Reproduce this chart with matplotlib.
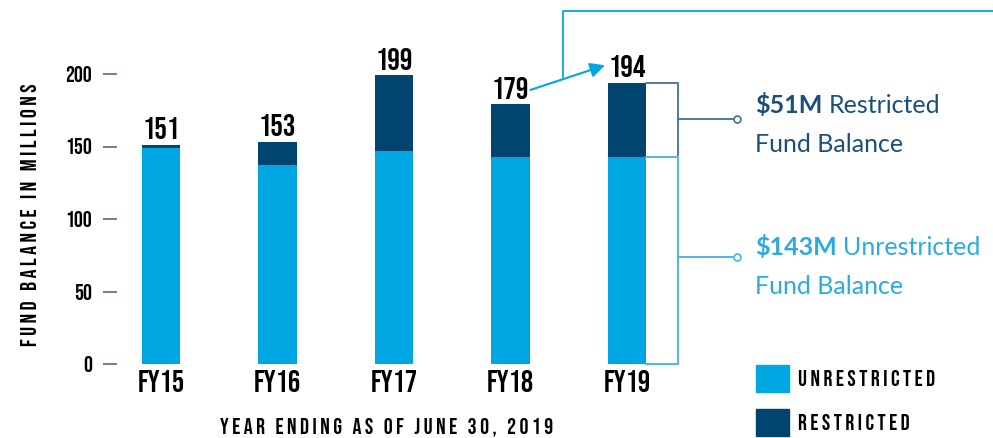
import matplotlib
matplotlib.use("Agg")
import matplotlib.pyplot as plt
from matplotlib.patches import Patch
import numpy as np

# ---------- data ----------
years = ["FY15", "FY16", "FY17", "FY18", "FY19"]
unrestricted = [149, 137, 147, 143, 143]
restricted = [2, 16, 52, 36, 51]
totals = [151, 153, 199, 179, 194]
y_ticks = [0, 50, 100, 150, 200]

LIGHT = "#00a6e2"
DARK = "#00446f"
NARROW = ["Bebas Neue", "Oswald", "Antonio", "DejaVu Sans"]
BODY = ["Lato", "DejaVu Sans"]
BODY_SIZE = 18


def spaced(s):
    return " ".join(s)


fig = plt.figure(figsize=(9.93, 4.38), dpi=100)
W, H = 993, 438
renderer = fig.canvas.get_renderer()
# axes: left edge at px 117, y=0 at px 364, y=200 at px 74, right edge at figure edge
ax = fig.add_axes([117 / W, (H - 364) / H, (W - 117) / W, (364 - 74) / H])


def callout(x, y, bold, rest, color):
    t = ax.text(x, y, bold, family=BODY, fontsize=BODY_SIZE, fontweight="bold",
                color=color, va="baseline", ha="left")
    bb = t.get_window_extent(renderer=renderer)
    x1 = ax.transData.inverted().transform((bb.x1 + 6, bb.y0))[0]
    ax.text(x1, y, rest, family=BODY, fontsize=BODY_SIZE, color=color,
            va="baseline", ha="left")


x = np.arange(len(years))
bw = 0.33
ax.bar(x, unrestricted, width=bw, color=LIGHT, zorder=2)
ax.bar(x, restricted, width=bw, bottom=unrestricted, color=DARK, zorder=2)

ax.set_xlim(-0.378, 7.14)
ax.set_ylim(0, 200)

for s in ax.spines.values():
    s.set_visible(False)

ax.set_yticks(y_ticks)
ax.set_yticklabels([str(v) for v in y_ticks], family=NARROW, fontsize=16)
ax.tick_params(axis="y", length=10, width=1.2, color="#4a6f85", pad=8)
ax.set_xticks(x)
ax.set_xticklabels(years, family=NARROW, fontsize=22)
ax.tick_params(axis="x", length=0, pad=4)

# totals above bars
for xi, t in zip(x, totals):
    ax.text(xi, t + 4, str(t), ha="center", va="bottom", family=NARROW,
            fontsize=22.5, color="black")

# arrow FY18 -> FY19 and the line going to the top right
ax.annotate("", xy=(3.81, 206), xytext=(3.17, 189),
            arrowprops=dict(arrowstyle="-|>", color=LIGHT, lw=1.5,
                            mutation_scale=22, shrinkA=0, shrinkB=0),
            annotation_clip=False)
ax.plot([3.45, 3.45, 7.2], [198, 243.4, 243.4], color=LIGHT, lw=1.3,
        clip_on=False)

# brackets on FY19
i = 4
bx0 = x[i] + bw / 2
bx1 = x[i] + 0.438
u, r = unrestricted[i], restricted[i]
ax.plot([bx0, bx1, bx1], [u + r, u + r, u + 1], color="#4e7a99", lw=1.4, clip_on=False)
ax.plot([bx0, bx1, bx1, bx0], [u - 0.5, u - 0.5, 0, 0], color="#4db8e8", lw=1.4,
        clip_on=False)
ym_r = u + r / 2 + 0.5
ym_u = 74
ax.plot([bx1, 4.944], [ym_r, ym_r], color="#4e7a99", lw=1.4, clip_on=False)
ax.plot([4.944], [ym_r], "o", ms=5, mfc="white", mec="#4e7a99", mew=1.3, clip_on=False)
ax.plot([bx1, 4.944], [ym_u, ym_u], color="#4db8e8", lw=1.4, clip_on=False)
ax.plot([4.944], [ym_u], "o", ms=5, mfc="white", mec="#4db8e8", mew=1.3, clip_on=False)

# callout texts
tx = 5.1
callout(tx, 173, "$51M", "Restricted", "#1b4f7a")
ax.text(tx, 146, "Fund Balance", family=BODY, fontsize=BODY_SIZE, color="#1b4f7a",
        va="baseline", ha="left")
callout(tx, 75, "$143M", "Unrestricted", "#29abe2")
ax.text(tx, 48.5, "Fund Balance", family=BODY, fontsize=BODY_SIZE, color="#29abe2",
        va="baseline", ha="left")

# axis titles
fig.text(29 / W, 1 - 215 / H, spaced("FUND BALANCE IN MILLIONS"), rotation=90,
         ha="center", va="center", family=NARROW, fontsize=16, color="black")
fig.text(387 / W, 1 - 427 / H, spaced("YEAR ENDING AS OF JUNE 30, 2019"),
         ha="center", va="center", family=NARROW, fontsize=16, color="black")

# legend
handles = [Patch(color=LIGHT, label=spaced("UNRESTRICTED")),
           Patch(color=DARK, label=spaced("RESTRICTED"))]
leg = fig.legend(handles=handles, loc="upper left", bbox_to_anchor=(738 / W, 1 - 347 / H),
                 frameon=False, prop={"family": NARROW, "size": 16},
                 handlelength=1.5, handleheight=1.5, handletextpad=0.4,
                 labelspacing=0.78, borderpad=0.3)

fig.savefig("out.png", dpi=100)
